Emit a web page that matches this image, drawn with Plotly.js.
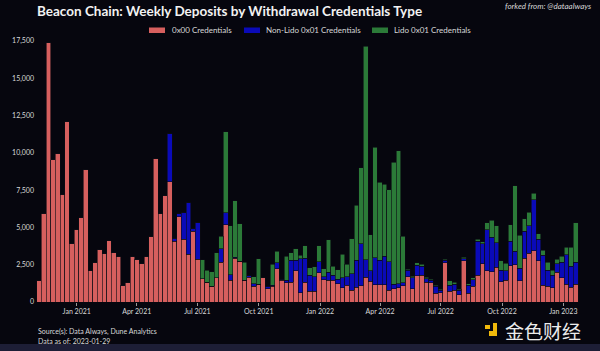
<!DOCTYPE html>
<html>
<head>
<meta charset="utf-8">
<script src="https://cdn.plot.ly/plotly-3.0.1.min.js"></script>
<style>html,body{margin:0;padding:0;background:#06060e;}#chart{width:600px;height:351px;}</style>
</head>
<body>
<div id="chart"></div>
<script>
// Week start dates (Monday)
const weeks = [
'2020-11-02','2020-11-09','2020-11-16','2020-11-23','2020-11-30','2020-12-07','2020-12-14','2020-12-21','2020-12-28',
'2021-01-04','2021-01-11','2021-01-18','2021-01-25','2021-02-01','2021-02-08','2021-02-15','2021-02-22',
'2021-03-01','2021-03-08','2021-03-15','2021-03-22','2021-03-29','2021-04-05','2021-04-12','2021-04-19','2021-04-26',
'2021-05-03','2021-05-10','2021-05-17','2021-05-24','2021-05-31','2021-06-07','2021-06-14','2021-06-21','2021-06-28',
'2021-07-05','2021-07-12','2021-07-19','2021-07-26','2021-08-02','2021-08-09','2021-08-16','2021-08-23','2021-08-30',
'2021-09-06','2021-09-13','2021-09-20','2021-09-27','2021-10-04','2021-10-11','2021-10-18','2021-10-25',
'2021-11-01','2021-11-08','2021-11-15','2021-11-22','2021-11-29','2021-12-06','2021-12-13','2021-12-20','2021-12-27',
'2022-01-03','2022-01-10','2022-01-17','2022-01-24','2022-01-31','2022-02-07','2022-02-14','2022-02-21','2022-02-28',
'2022-03-07','2022-03-14','2022-03-21','2022-03-28','2022-04-04','2022-04-11','2022-04-18','2022-04-25',
'2022-05-02','2022-05-09','2022-05-16','2022-05-23','2022-05-30','2022-06-06','2022-06-13','2022-06-20','2022-06-27',
'2022-07-04','2022-07-11','2022-07-18','2022-07-25','2022-08-01','2022-08-08','2022-08-15','2022-08-22','2022-08-29',
'2022-09-05','2022-09-12','2022-09-19','2022-09-26','2022-10-03','2022-10-10','2022-10-17','2022-10-24','2022-10-31',
'2022-11-07','2022-11-14','2022-11-21','2022-11-28','2022-12-05','2022-12-12','2022-12-19','2022-12-26',
'2023-01-02','2023-01-09','2023-01-16'
];

const cred0x00 = [
1450,5960,17370,9530,9930,7210,12120,3950,4870,
5650,8880,2080,2660,3530,3240,4100,3300,
3060,1120,1340,3060,2880,2570,3060,4420,9600,
5930,7140,8080,4060,5730,4220,3210,4730,2880,
1560,1340,1070,1630,2650,5180,1450,2950,2740,
1450,1650,1050,1190,1610,900,1050,2240,
1450,1300,1340,2080,630,1340,720,720,1970,
1500,1450,1450,1230,960,1120,800,980,1100,
1650,1400,1150,1150,1150,780,900,950,
1080,1680,900,1750,1800,1340,1300,600,630,
2620,720,780,490,2760,580,1060,1790,2570,
2080,2035,2345,1365,1450,2430,2500,1410,2950,
3280,3440,2750,1120,1050,960,2010,1610,
1180,1000,1180
];

const nonLido0x01 = [
0,0,0,0,0,0,0,0,0,
0,0,0,0,0,0,0,0,
0,0,0,0,0,0,0,0,0,
0,0,3190,230,200,1760,3460,180,2450,
0,0,0,0,920,800,380,60,0,
0,100,180,0,0,150,70,380,
90,150,1460,720,2280,1590,1070,960,720,
200,560,340,310,650,560,1100,1830,2810,
1180,700,1810,1650,1910,1910,300,260,
195,450,730,710,600,230,150,450,150,
180,400,410,290,130,545,440,2285,1345,
2770,2300,1635,780,650,1645,890,840,1780,
1850,3430,1450,2000,1070,830,560,1070,
1990,1390,1500
];

const lido0x01 = [
0,0,0,0,0,0,0,0,0,
0,0,0,0,0,0,0,0,
0,0,0,0,0,0,0,0,0,
0,0,0,0,0,0,0,0,0,
1270,780,960,1670,830,5440,3300,3790,2500,
1200,0,450,1700,0,0,1410,800,
0,1620,510,780,220,850,510,670,1090,
540,2180,600,630,1590,850,2350,3670,5090,
14320,2400,7420,5220,4830,4830,8170,8920,
3125,60,90,170,140,90,70,90,70,
60,290,150,90,125,105,120,140,130,
470,1140,1150,605,515,1110,4420,2210,850,
900,410,380,340,560,330,310,380,
510,1290,2650
];

const seriesNames = ['0x00 Credentials', 'Non-Lido 0x01 Credentials', 'Lido 0x01 Credentials'];
const colors = ['#d65f5e', '#0a0ab8', '#2b7a38'];
const BG = '#06060e';

const W = 600, H = 351, L = 35, R = 18, T = 30, B = 49;
const PW = W - L - R, PH = H - T - B;
const px = x => (x - L) / PW;
const py = y => (H - B - y) / PH;

const WEEK_MS = 7 * 24 * 3600 * 1000;
const base = {
  type: 'bar',
  x: weeks,
  xperiod: WEEK_MS,
  xperiod0: '2020-11-02',
  xperiodalignment: 'middle',
  hoverinfo: 'skip',
  showlegend: false
};
const data = [cred0x00, nonLido0x01, lido0x01].map((vals, i) => Object.assign({}, base, {
  y: vals,
  name: seriesNames[i],
  marker: {color: colors[i], line: {color: '#0b0b14', width: 0.6}}
}));

const txtFont = {family: 'Lato, "Open Sans", sans-serif', color: '#d8d8d8'};

// legend drawn as swatches + labels
const legendX = [[149, 165, 170], [244, 260, 264], [372, 388, 392]];
const shapes = [];
const annotations = [];
legendX.forEach((p, i) => {
  shapes.push({type: 'rect', xref: 'paper', yref: 'paper', x0: px(p[0]), x1: px(p[1]), y0: py(33), y1: py(27.5),
    fillcolor: colors[i], line: {width: 0}});
  annotations.push({xref: 'paper', yref: 'paper', x: px(p[2]), y: py(30.3), xanchor: 'left', yanchor: 'middle',
    text: seriesNames[i], showarrow: false, font: Object.assign({}, txtFont, {size: 8})});
});

// bottom band
shapes.push({type: 'rect', xref: 'paper', yref: 'paper', x0: px(0), x1: px(600), y0: py(351), y1: py(344),
  fillcolor: '#1d1e36', line: {width: 0}, layer: 'below'});
// watermark icon
shapes.push({type: 'rect', xref: 'paper', yref: 'paper', x0: px(489), x1: px(497), y0: py(336), y1: py(331),
  fillcolor: '#f0b90b', line: {width: 0}});
shapes.push({type: 'rect', xref: 'paper', yref: 'paper', x0: px(493), x1: px(497), y0: py(331), y1: py(323),
  fillcolor: '#f0b90b', line: {width: 0}});
shapes.push({type: 'rect', xref: 'paper', yref: 'paper', x0: px(485), x1: px(490), y0: py(329), y1: py(325),
  fillcolor: '#f0b90b', line: {width: 0}});

annotations.push({xref: 'paper', yref: 'paper', x: px(594), y: py(6), xanchor: 'right', yanchor: 'middle',
  text: '<i>forked from: @dataalways</i>', showarrow: false, font: Object.assign({}, txtFont, {size: 8})});
annotations.push({xref: 'paper', yref: 'paper', x: px(36), y: py(331), xanchor: 'left', yanchor: 'middle',
  text: 'Source(s): Data Always, Dune Analytics', showarrow: false, font: Object.assign({}, txtFont, {size: 7})});
annotations.push({xref: 'paper', yref: 'paper', x: px(36), y: py(341), xanchor: 'left', yanchor: 'middle',
  text: 'Data as of: 2023-01-29', showarrow: false, font: Object.assign({}, txtFont, {size: 7})});
annotations.push({xref: 'paper', yref: 'paper', x: px(503), y: py(330), xanchor: 'left', yanchor: 'middle',
  text: '金色财经', showarrow: false, font: {family: '"Noto Sans CJK SC", sans-serif', size: 19, color: '#ececec'}});

const layout = {
  width: W, height: H,
  paper_bgcolor: BG, plot_bgcolor: BG,
  margin: {l: L, r: R, t: T, b: B, pad: 0},
  barmode: 'stack', bargap: 0,
  showlegend: false,
  title: {text: '<b>Beacon Chain: Weekly Deposits by Withdrawal Credentials Type</b>', xref: 'container', yref: 'container',
    x: 37 / W, xanchor: 'left', y: 1 - 11 / H, yanchor: 'middle',
    font: {family: 'Lato, "Open Sans", sans-serif', size: 13.5, color: '#f2f2f2'}},
  xaxis: {
    type: 'date', range: ['2020-10-30 09:00', '2023-01-29 00:00'],
    tick0: '2021-01-01', dtick: 'M3', tickformat: '%b %Y',
    showgrid: false, zeroline: false, showline: false,
    ticks: 'outside', ticklen: 3, tickcolor: '#9a9a9a', tickwidth: 1,
    tickfont: Object.assign({}, txtFont, {size: 7})
  },
  yaxis: {
    range: [0, 18240], tickvals: [0, 2500, 5000, 7500, 10000, 12500, 15000, 17500],
    tickformat: ',d', showgrid: false, zeroline: false, showline: false,
    ticks: '', tickfont: Object.assign({}, txtFont, {size: 7})
  },
  shapes: shapes,
  annotations: annotations
};

Plotly.newPlot('chart', data, layout, {staticPlot: true, displayModeBar: false});
</script>
</body>
</html>
